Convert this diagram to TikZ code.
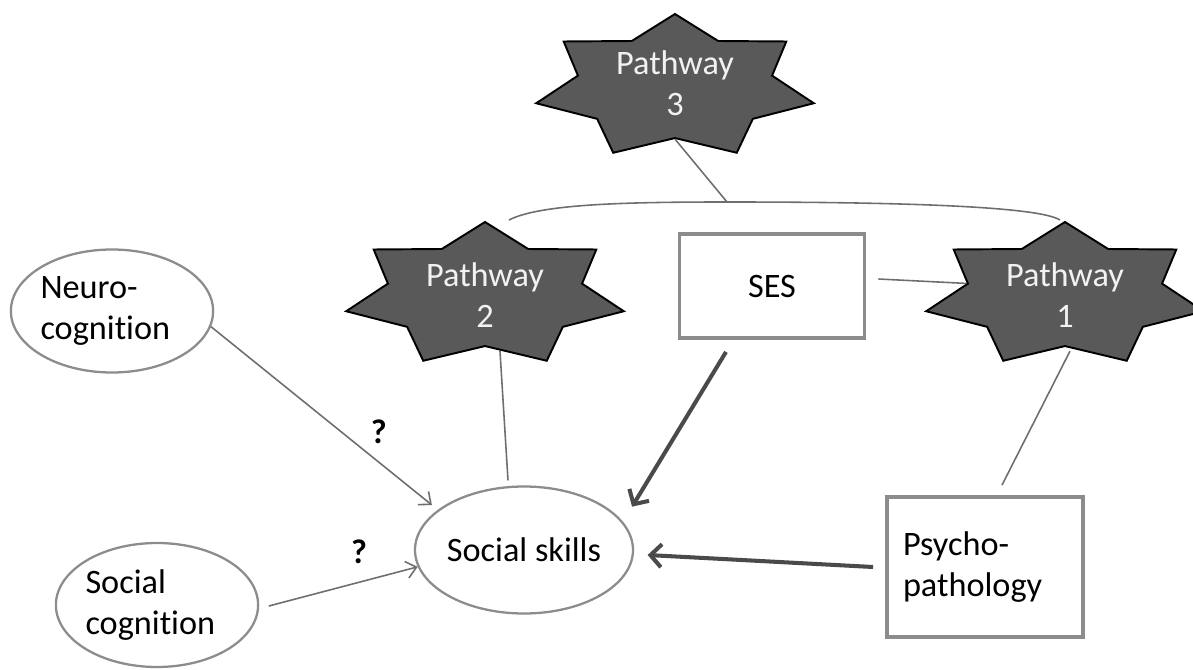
\documentclass[tikz,border=0pt]{standalone}
\usepackage{fontspec}
\setmainfont{Carlito}[Ligatures=NoCommon]
\usetikzlibrary{positioning, arrows.meta, calc, shapes.geometric}

\definecolor{boxgray}{HTML}{8C8C8C}
\definecolor{linegray}{HTML}{6E6E6E}
\definecolor{darkline}{HTML}{4A4A4A}
\definecolor{starfill}{HTML}{595959}

\begin{document}
\begin{tikzpicture}[
    every node/.style={align=center, font=\fontsize{19.5}{23.5}\selectfont},
    pathstar/.style={star, star points=7, star point ratio=1.43, minimum size=2.92cm, inner sep=0pt,
        fill=starfill, draw=black, line width=1.1pt, transform shape, xscale=1.95},
    startext/.style={text=white!95!black},
    oval/.style={ellipse, draw=boxgray, line width=1.3pt, inner sep=0pt},
    boxed/.style={rectangle, draw=boxgray, line width=2.2pt},
    link/.style={draw=linegray, line width=0.9pt},
    thinarrow/.style={link, -{Straight Barb[length=0.2cm, width=0.34cm]}},
    heavyarrow/.style={draw=darkline, line width=2.3pt, -{Straight Barb[length=0.22cm, width=0.46cm]}},
    query/.style={font=\fontsize{19.5}{23.5}\selectfont\bfseries, inner sep=0pt}
]
    \useasboundingbox (0,0) rectangle (23.86,13.38);
    % Pathway stars
    \node[pathstar] (p3s) at (13.5,11.64) {};
    \node[startext] (p3) at ([yshift=0.08cm]p3s.center) {Pathway\\3};
    \node[pathstar] (p2s) at (9.7,7.48) {};
    \node[startext] (p2) at (p2s.center) {Pathway\\2};
    \node[pathstar] (p1s) at (21.3,7.48) {};
    \node[startext] (p1) at (p1s.center) {Pathway\\1};
    % Ellipses
    \node[oval, minimum width=3.96cm, minimum height=2.46cm, text width=2.86cm, align=left] (neuro) at (2.24,7.16)
        {Neuro-\\cognition};
    \node[oval, minimum width=3.98cm, minimum height=2.48cm, text width=2.86cm, align=left] (socog) at (3.14,1.28)
        {Social\\cognition};
    \node[oval, minimum width=3.9cm, minimum height=2.54cm] (skills) at (10.48,2.38) {Social skills};
    % Boxes
    \node[boxed, minimum width=3.7cm, minimum height=2.08cm] (ses) at (15.44,7.66) {SES};
    \node[boxed, text width=3.28cm, inner xsep=0.32cm, minimum height=2.8cm, align=left] (psych) at (19.7,2.04)
        {Psycho-\\pathology};
    % Bracket over pathways 1 and 2
    \coordinate (brleft) at (10.18,8.98);
    \coordinate (brtop) at (14.54,9.34);
    \coordinate (brright) at (21.2,8.98);
    \draw[link] (brleft) .. controls (10.8,9.3) and (12.5,9.34) .. (brtop)
        .. controls (17,9.34) and (20.7,9.3) .. (brright);
    \draw[link] (p3s.inner point 4) -- (brtop);
    % Pathway links
    \draw[link] ([xshift=0.3cm, yshift=-0.08cm]p2s.inner point 4) -- ([xshift=-0.32cm, yshift=0.1cm]skills.north);
    \draw[link] ([xshift=0.1cm, yshift=-0.08cm]p1s.inner point 4) -- ([xshift=0.34cm, yshift=0.2cm]psych.north);
    \draw[link] ([xshift=0.24cm, yshift=0.14cm]ses.east) -- (p1s.inner point 2);
    % Arrows into social skills
    \draw[thinarrow, shorten >=0.15cm] (neuro.-9) -- (skills.155)
        node[pos=0.74, above=0.36cm, query] (q1) {?};
    \draw[thinarrow, shorten <=0.2cm] (socog.-2) -- (skills.189)
        node[pos=0.63, above=0.36cm, query] (q2) {?};
    \draw[heavyarrow, shorten >=0.35cm] ([xshift=-0.92cm, yshift=-0.24cm]ses.south) -- (skills.16);
    \draw[heavyarrow] ([xshift=-0.24cm]psych.west) -- ([xshift=0.27cm, yshift=-0.1cm]skills.east);
\end{tikzpicture}
\end{document}
